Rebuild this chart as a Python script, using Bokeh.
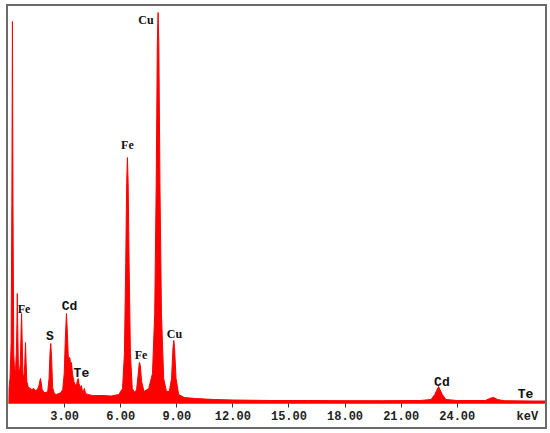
from bokeh.plotting import figure
from bokeh.models import Range1d, FixedTicker, ColumnDataSource, LinearAxis
from bokeh.core.properties import value
from bokeh.embed import file_html
from bokeh.resources import INLINE

# ---- spectrum (keV, counts) ----
energy_kev = [0.00, 0.02, 0.08, 0.14, 0.18, 0.21, 0.24, 0.28, 0.33, 0.38, 0.42, 0.45,
              0.47, 0.49, 0.53, 0.58, 0.63, 0.67, 0.70, 0.73, 0.77, 0.82, 0.87, 0.91,
              0.94, 0.98, 1.05, 1.15, 1.25, 1.35, 1.45, 1.55, 1.63, 1.68, 1.71, 1.74,
              1.80, 1.90, 2.00, 2.10, 2.17, 2.22, 2.26, 2.30, 2.36, 2.45, 2.55, 2.70,
              2.80, 2.90, 2.98, 3.04, 3.10, 3.15, 3.20, 3.28, 3.33, 3.37, 3.42, 3.50,
              3.58, 3.65, 3.70, 3.73, 3.77, 3.83, 3.90, 3.95, 4.00, 4.06, 4.12, 4.25,
              4.50, 5.00, 5.50, 5.90, 6.10, 6.20, 6.27, 6.32, 6.36, 6.40, 6.45, 6.52,
              6.62, 6.75, 6.85, 6.93, 7.00, 7.05, 7.12, 7.25, 7.50, 7.70, 7.82, 7.90,
              7.96, 8.00, 8.04, 8.10, 8.18, 8.30, 8.45, 8.60, 8.72, 8.80, 8.84, 8.88,
              8.96, 9.10, 9.40, 10.0, 11.0, 12.0, 14.0, 16.0, 18.0, 20.0, 22.0, 22.6,
              22.8, 23.0, 23.2, 23.4, 24.0, 25.5, 25.8, 25.95, 26.15, 26.5, 28.0, 28.72]
counts = [0, 150, 250, 600, 2000, 3820, 2000, 500, 300, 350, 500, 800,
          1100, 800, 350, 300, 400, 700, 900, 650, 300, 250, 400, 610,
          420, 220, 170, 150, 140, 150, 130, 140, 180, 230, 250, 220,
          140, 110, 110, 120, 250, 500, 600, 480, 160, 100, 90, 100,
          110, 140, 300, 650, 900, 700, 450, 460, 380, 410, 300, 220,
          180, 200, 240, 250, 200, 160, 180, 130, 120, 150, 100, 90,
          80, 80, 75, 90, 150, 500, 1400, 2200, 2460, 2200, 1400, 500,
          150, 110, 140, 280, 410, 380, 220, 120, 150, 300, 900, 2200,
          3600, 3910, 3600, 2200, 900, 250, 120, 120, 250, 560, 630, 560,
          250, 90, 60, 50, 40, 35, 30, 30, 28, 28, 30, 40,
          90, 170, 90, 40, 30, 30, 55, 60, 40, 28, 25, 25]

# ---- axis ticks ----
tick_values = [3, 6, 9, 12, 15, 18, 21, 24]
tick_labels = ["3.00", "6.00", "9.00", "12.00", "15.00", "18.00", "21.00", "24.00"]
unit_label = "keV"
unit_kev = 27.75

# ---- peak labels ----
serif_names = ["Cu", "Fe", "Fe", "Fe", "Cu"]
serif_kev = [7.35, 6.36, 0.83, 7.09, 8.88]
serif_counts = [3835, 2590, 950, 490, 700]

mono_names = ["Cd", "S", "Te", "Cd", "Te"]
mono_kev = [3.26, 2.22, 3.90, 23.18, 27.65]
mono_counts = [970, 670, 300, 210, 90]

RED = "#ff0000"

p = figure(frame_width=537, frame_height=397,
           x_range=Range1d(0, 28.72), y_range=Range1d(0, 3970),
           output_backend="svg", toolbar_location=None,
           min_border_left=0, min_border_right=0, min_border_top=0,
           min_border_bottom=0, y_axis_location=None)
p.styles = {"outline": "2px solid #6a6a6a", "margin-left": "8px", "margin-top": "6px"}
p.outline_line_color = None
p.xgrid.visible = False
p.ygrid.visible = False
p.background_fill_color = "white"
p.border_fill_color = "white"

src = ColumnDataSource(dict(x=energy_kev, y=counts))
p.varea(x="x", y1=0, y2="y", source=src, fill_color=RED)
p.line(x="x", y="y", source=src, line_color=RED, line_width=1)

# axis nearest the frame: line and tick marks only
ax = p.xaxis[0]
ax.ticker = FixedTicker(ticks=tick_values)
ax.minor_tick_line_color = None
ax.major_tick_in = 0
ax.major_tick_out = 4
ax.major_tick_line_color = "#333333"
ax.axis_line_color = "#777777"
ax.major_label_standoff = 0
ax.major_label_text_font_size = "0px"
ax.major_label_text_alpha = 0

# second axis: tick labels plus the unit
lab_ticks = tick_values + [unit_kev]
lab_texts = tick_labels + [unit_label]
ax2 = LinearAxis(ticker=FixedTicker(ticks=lab_ticks),
                 major_label_overrides={v: t for v, t in zip(lab_ticks, lab_texts)},
                 axis_line_color=None, major_tick_line_color=None,
                 minor_tick_line_color=None, major_tick_in=0, major_tick_out=0,
                 major_label_standoff=2,
                 major_label_text_font="Liberation Mono",
                 major_label_text_font_style="bold",
                 major_label_text_font_size="12px",
                 major_label_text_color="#222222")
p.add_layout(ax2, "below")
p.min_border_bottom = 24

p.text(x=serif_kev, y=serif_counts, text=serif_names,
       text_font=value("Liberation Serif"), text_font_style="bold",
       text_font_size="12px", text_color="#111111",
       text_align="center", text_baseline="middle")
p.text(x=mono_kev, y=mono_counts, text=mono_names,
       text_font=value("Liberation Mono"), text_font_style="bold",
       text_font_size="13px", text_color="#111111",
       text_align="center", text_baseline="middle")

open("out.html", "w").write(file_html(p, INLINE))
